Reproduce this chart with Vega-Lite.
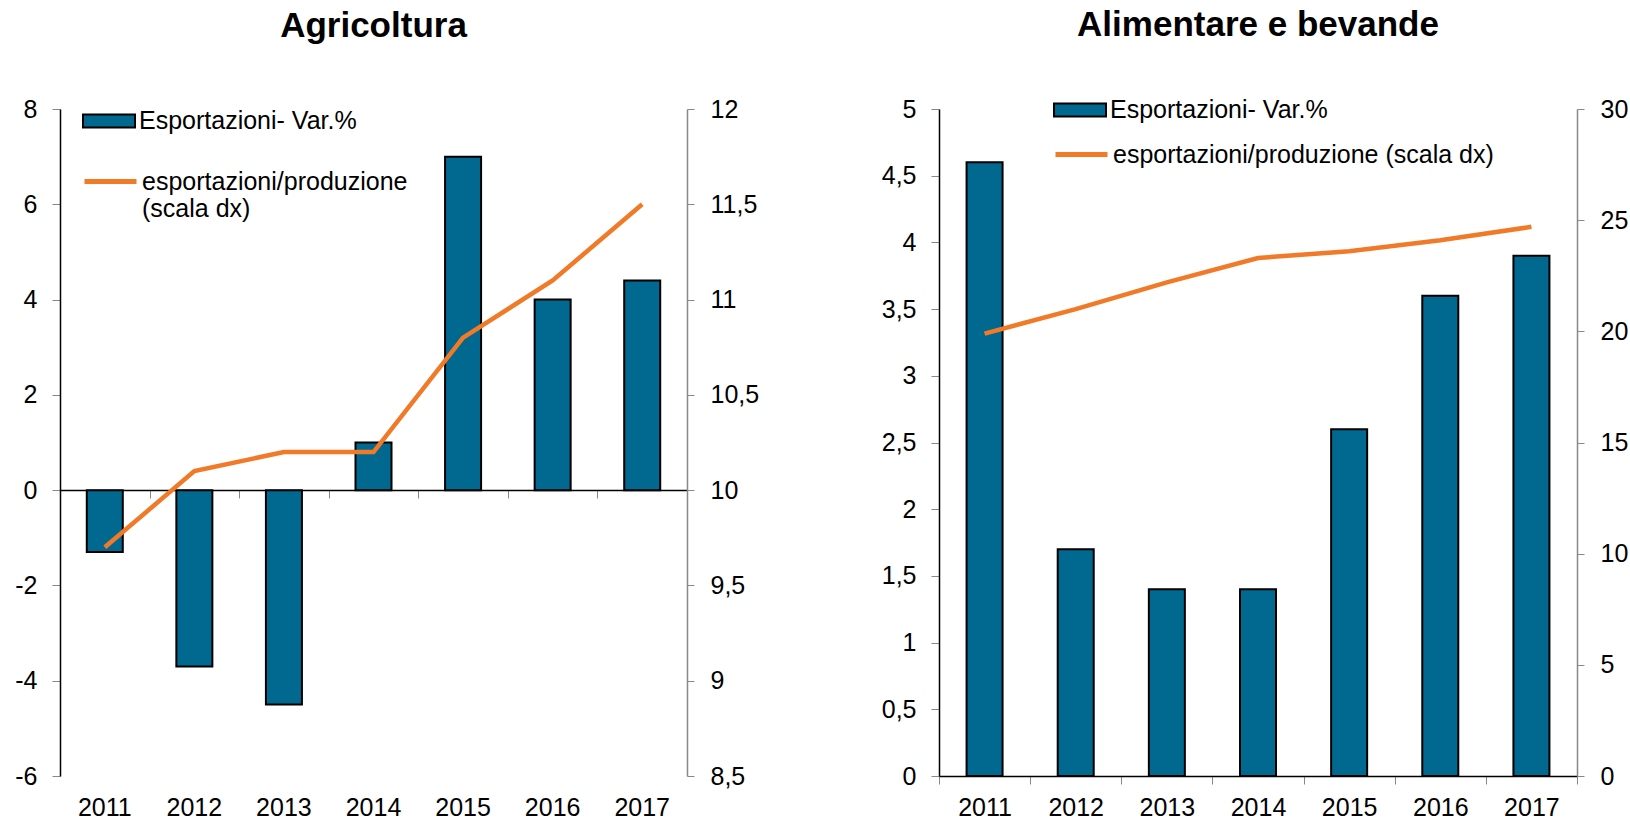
{
  "$schema": "https://vega.github.io/schema/vega-lite/v6.json",
  "padding": {"left": 10, "top": 8, "right": 0, "bottom": 0},
  "background": "white",
  "spacing": 117,
  "config": {
    "font": "Liberation Sans",
    "view": {"stroke": null},
    "axis": {"labelFont": "Liberation Sans", "labelColor": "black", "grid": false, "title": null},
    "title": {"font": "Liberation Sans", "fontSize": 35, "fontWeight": "bold", "color": "black", "anchor": "middle", "baseline": "alphabetic", "offset": 53},
    "legend": {"labelFont": "Liberation Sans", "labelFontSize": 25, "labelColor": "black", "title": null, "labelLimit": 800}
  },
  "datasets": {
    "agri": [
      {"anno": "2011", "export_var": -1.3, "rapporto": 9.7},
      {"anno": "2012", "export_var": -3.7, "rapporto": 10.1},
      {"anno": "2013", "export_var": -4.5, "rapporto": 10.2},
      {"anno": "2014", "export_var": 1.0, "rapporto": 10.2},
      {"anno": "2015", "export_var": 7.0, "rapporto": 10.8},
      {"anno": "2016", "export_var": 4.0, "rapporto": 11.1},
      {"anno": "2017", "export_var": 4.4, "rapporto": 11.5}
    ],
    "alim": [
      {"anno": "2011", "export_var": 4.6, "rapporto": 19.9},
      {"anno": "2012", "export_var": 1.7, "rapporto": 21.0},
      {"anno": "2013", "export_var": 1.4, "rapporto": 22.2},
      {"anno": "2014", "export_var": 1.4, "rapporto": 23.3},
      {"anno": "2015", "export_var": 2.6, "rapporto": 23.6},
      {"anno": "2016", "export_var": 3.6, "rapporto": 24.1},
      {"anno": "2017", "export_var": 3.9, "rapporto": 24.7}
    ]
  },
  "resolve": {"scale": {"fill": "independent", "stroke": "independent"}},
  "hconcat": [
    {
      "title": "Agricoltura",
      "width": 627,
      "height": 667,
      "data": {"name": "agri"},
      "layer": [
        {
          "mark": {"type": "bar", "size": 36, "stroke": "black", "strokeWidth": 2},
          "encoding": {
            "x": {"field": "anno", "type": "nominal", "sort": null, "scale": {"paddingInner": 0, "paddingOuter": 0},
              "axis": {"orient": "bottom", "domain": false, "ticks": false, "labelAngle": 0, "labelFontSize": 25, "labelPadding": 19, "title": null}},
            "y": {"field": "export_var", "type": "quantitative", "scale": {"domain": [-6, 8], "nice": false, "zero": false},
              "axis": {"orient": "left", "values": [-6, -4, -2, 0, 2, 4, 6, 8], "domainColor": "black", "domainWidth": 1.5, "tickColor": "#888888", "tickSize": 8, "labelPadding": 15, "labelFontSize": 25, "minExtent": 50, "maxExtent": 50, "title": null, "labelExpr": "replace(toString(datum.value), '.', ',')"}},
            "fill": {"datum": "Esportazioni- Var.%", "type": "nominal", "scale": {"range": ["#01688F"]},
              "legend": {"orient": "none", "legendX": 35, "legendY": -2, "padding": 0, "symbolType": "M-2,-0.5H2V0.5H-2Z", "symbolSize": 676, "symbolStrokeColor": "black", "symbolStrokeWidth": 2, "labelOffset": 16}}
          }
        },
        {
          "mark": {"type": "line", "strokeWidth": 4.5},
          "encoding": {
            "x": {"field": "anno", "type": "nominal", "sort": null,
              "axis": {"orient": "bottom", "offset": -286, "labels": false, "domain": true, "domainColor": "black", "domainWidth": 1.5, "ticks": true, "tickBand": "extent", "tickColor": "#888888", "tickSize": 8, "title": null}},
            "y": {"field": "rapporto", "type": "quantitative", "scale": {"domain": [8.5, 12], "nice": false, "zero": false},
              "axis": {"orient": "right", "values": [8.5, 9, 9.5, 10, 10.5, 11, 11.5, 12], "domainColor": "#888888", "domainWidth": 1.5, "tickColor": "#888888", "tickSize": 7, "labelPadding": 16, "labelFontSize": 25, "minExtent": 75, "maxExtent": 75, "title": null, "labelExpr": "replace(toString(datum.value), '.', ',')"}},
            "stroke": {"datum": "esportazioni/produzione (scala dx)", "type": "nominal", "scale": {"range": ["#F07A28"]},
              "legend": {"orient": "none", "legendX": 35, "legendY": 57, "padding": 0, "symbolType": "M-2,0H2", "symbolSize": 676, "symbolStrokeWidth": 5, "labelOffset": 16, "labelExpr": "['esportazioni/produzione', '(scala dx)']"}}
          }
        }
      ],
      "resolve": {"scale": {"y": "independent"}, "axis": {"x": "independent"}}
    },
    {
      "title": "Alimentare e bevande",
      "width": 638,
      "height": 667,
      "data": {"name": "alim"},
      "encoding": {
        "x": {"field": "anno", "type": "nominal", "sort": null, "scale": {"paddingInner": 0, "paddingOuter": 0},
          "axis": {"orient": "bottom", "domain": true, "domainColor": "black", "domainWidth": 1.5, "ticks": true, "tickBand": "extent", "tickColor": "#888888", "tickSize": 8, "labelAngle": 0, "labelFontSize": 25, "labelPadding": 11, "title": null}}
      },
      "layer": [
        {
          "mark": {"type": "bar", "size": 36, "stroke": "black", "strokeWidth": 2},
          "encoding": {
            "y": {"field": "export_var", "type": "quantitative", "scale": {"domain": [0, 5], "nice": false},
              "axis": {"orient": "left", "values": [0, 0.5, 1, 1.5, 2, 2.5, 3, 3.5, 4, 4.5, 5], "domainColor": "black", "domainWidth": 1.5, "tickColor": "#888888", "tickSize": 8, "labelPadding": 15, "labelFontSize": 25, "minExtent": 60, "maxExtent": 60, "title": null, "labelExpr": "replace(toString(datum.value), '.', ',')"}},
            "fill": {"datum": "Esportazioni- Var.%", "type": "nominal", "scale": {"range": ["#01688F"]},
              "legend": {"orient": "none", "legendX": 127, "legendY": -13, "padding": 0, "symbolType": "M-2,-0.5H2V0.5H-2Z", "symbolSize": 676, "symbolStrokeColor": "black", "symbolStrokeWidth": 2, "labelOffset": 16}}
          }
        },
        {
          "mark": {"type": "line", "strokeWidth": 4.5},
          "encoding": {
            "y": {"field": "rapporto", "type": "quantitative", "scale": {"domain": [0, 30], "nice": false},
              "axis": {"orient": "right", "values": [0, 5, 10, 15, 20, 25, 30], "domainColor": "#888888", "domainWidth": 1.5, "tickColor": "#888888", "tickSize": 7, "labelPadding": 16, "labelFontSize": 25, "title": null}},
            "stroke": {"datum": "esportazioni/produzione (scala dx)", "type": "nominal", "scale": {"range": ["#F07A28"]},
              "legend": {"orient": "none", "legendX": 127, "legendY": 30, "padding": 0, "symbolType": "M-2,0H2", "symbolSize": 676, "symbolStrokeWidth": 5, "labelOffset": 16}}
          }
        }
      ],
      "resolve": {"scale": {"y": "independent"}}
    }
  ]
}
